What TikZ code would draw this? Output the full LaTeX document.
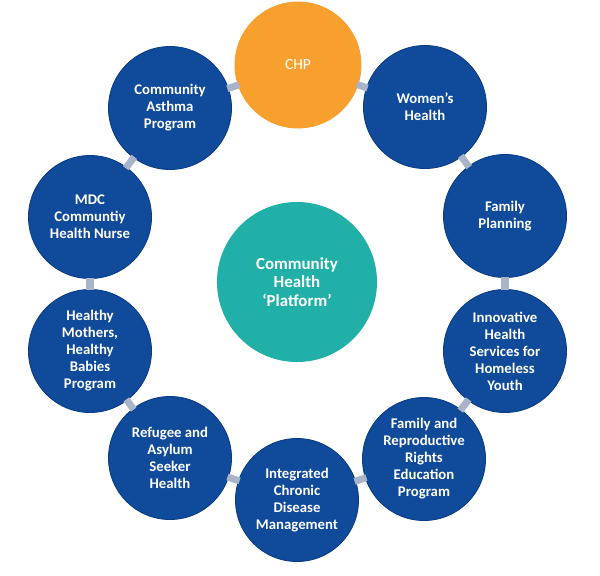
\documentclass[tikz,border=0pt]{standalone}
\usepackage{fontspec}
\setmainfont{Carlito}
\definecolor{ringblue}{RGB}{16,74,154}
\definecolor{ringedge}{RGB}{10,60,130}
\definecolor{chporange}{RGB}{247,160,46}
\definecolor{hubteal}{RGB}{33,176,168}
\definecolor{linkgrey}{RGB}{170,180,200}

\begin{document}
\begin{tikzpicture}
[
	x=0.025cm,y=-0.025cm,
	program/.style={circle,fill=ringblue,draw=ringedge,line width=0.6pt,text=white,align=center,
		inner sep=0pt,minimum size=3.075cm,font=\bfseries\fontsize{10.5pt}{12.1pt}\selectfont},
	chpnode/.style={program,fill=chporange,draw=chporange,minimum size=3.15cm,
		font=\fontsize{11pt}{12.1pt}\selectfont},
	hub/.style={circle,fill=hubteal,text=white,align=center,inner sep=0pt,minimum size=4cm,
		font=\bfseries\fontsize{12pt}{12.9pt}\selectfont},
	link/.style={draw=linkgrey,line width=5pt,shorten <=-1pt,shorten >=-1pt}
]
	\useasboundingbox (0,0) rectangle (600,575);

	% hub
	\node[hub] (platform) at (297,282) {Community\\Health\\`Platform'};

	% ring
	\node[chpnode] (chp) at (298,65) {CHP};
	\node[program] (womens) at (425,107) {Women's\\Health};
	\node[program] (family) at (505,216) {Family\\Planning};
	\node[program] (homeless) at (505,351) {Innovative\\Health\\Services for\\Homeless\\Youth};
	\node[program] (rights) at (424,459) {Family and\\Reproductive\\Rights\\Education\\Program};
	\node[program] (chronic) at (297,500) {Integrated\\Chronic\\Disease\\Management};
	\node[program] (refugee) at (170,458) {Refugee and\\Asylum\\Seeker\\Health};
	\node[program] (mothers) at (90,351) {Healthy\\Mothers,\\Healthy\\Babies\\Program};
	\node[program] (nurse) at (90,217) {MDC\\Communtiy\\Health Nurse};
	\node[program] (asthma) at (170,108) {Community\\Asthma\\Program};

	% links
	\foreach \a/\b in {chp/womens,womens/family,family/homeless,homeless/rights,rights/chronic,
		chronic/refugee,refugee/mothers,mothers/nurse,nurse/asthma,asthma/chp}
		\draw[link] (\a) -- (\b);

\end{tikzpicture}
\end{document}
